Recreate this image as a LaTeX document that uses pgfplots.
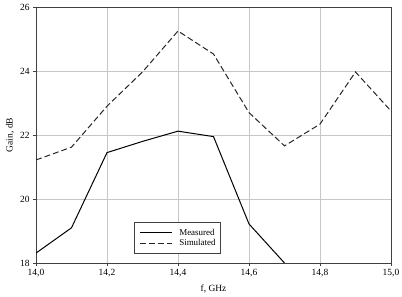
\documentclass[border=0pt]{standalone}
\usepackage{fontspec}
\setmainfont{Liberation Serif}
\usepackage{pgfplots}
\pgfplotsset{compat=1.18}
\begin{document}
\fontsize{9.5}{11}\selectfont
\begin{tikzpicture}
\useasboundingbox (-36bp,-34bp) rectangle (366bp,263bp);
\begin{axis}[
  at={(0,0)}, anchor=south west,
  scale only axis, width=355bp, height=256bp,
  xmin=14, xmax=15, ymin=18, ymax=26,
  xtick={14,14.2,...,15.01}, ytick={18,20,22,24,26},
  /pgf/number format/assume math mode=true,
  xticklabel style={/pgf/number format/.cd, fixed, fixed zerofill, precision=1, use comma},
  yticklabel style={/pgf/number format/.cd, fixed, precision=0},
  grid=major,
  major grid style={draw=black!22, line width=0.6bp},
  axis line style={draw=black!75, line width=0.8bp},
  tick style={draw=black!75, line width=0.6bp},
  tick align=outside, major tick length=3bp,
  xtick pos=bottom, ytick pos=left,
  xlabel={f, GHz}, ylabel={Gain, dB},
  xlabel style={at={(axis description cs:0.5,-0.1016)}, anchor=center},
  ylabel style={at={(axis description cs:-0.073,0.5)}, anchor=center},
  legend style={at={(axis description cs:0.276,0.035)}, anchor=south west, draw=black!75, line width=0.6bp,
    font=\fontsize{9}{10}\selectfont, row sep=0bp, column sep=7bp, inner xsep=5bp, inner ysep=5bp,
    nodes={inner xsep=0bp, inner ysep=1.5bp}},
  legend cell align=left,
  legend image code/.code={\draw[#1] (0bp,0bp) -- (32bp,0bp);},
]
\addplot[black, line width=1bp] coordinates {
(14.0,18.31) (14.1,19.1) (14.2,21.45) (14.3,21.8) (14.4,22.12) (14.5,21.95) (14.6,19.22) (14.7,18.0)
};
\addlegendentry{Measured}
\addplot[black!85, line width=1bp, dash pattern=on 6bp off 3bp] coordinates {
(14.0,21.22) (14.1,21.62) (14.2,22.9) (14.3,23.97) (14.4,25.25) (14.5,24.53) (14.6,22.7) (14.7,21.66) (14.8,22.34) (14.9,23.97) (15.0,22.75)
};
\addlegendentry{Simulated}
\end{axis}
\end{tikzpicture}
\end{document}
